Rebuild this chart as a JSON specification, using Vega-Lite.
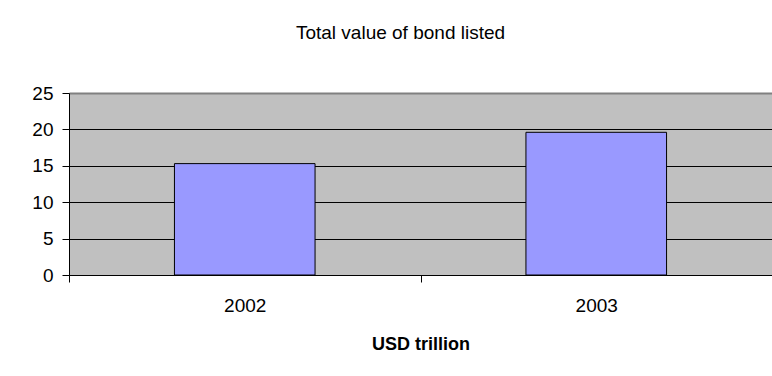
{
  "$schema": "https://vega.github.io/schema/vega-lite/v6.json",
  "autosize": {"type": "none"},
  "padding": {"left": 69, "top": 93, "right": 0, "bottom": 101},
  "width": 703,
  "height": 182,
  "background": "#ffffff",
  "title": {
    "text": "Total value of bond listed",
    "font": "Liberation Sans",
    "fontSize": 19,
    "fontWeight": "normal",
    "color": "#000000",
    "anchor": "middle",
    "baseline": "alphabetic",
    "offset": 26,
    "dx": -20
  },
  "data": {
    "values": [
      {"year": "2002", "value": 15.3},
      {"year": "2003", "value": 19.6}
    ]
  },
  "mark": {"type": "bar", "fill": "#9999FF", "stroke": "#000000", "strokeWidth": 1},
  "encoding": {
    "x": {
      "field": "year",
      "type": "nominal",
      "scale": {"paddingInner": 0.6, "paddingOuter": 0.3},
      "axis": {
        "title": "USD trillion",
        "titleFont": "Liberation Sans",
        "titleFontSize": 18,
        "titleFontWeight": "bold",
        "titleColor": "#000000",
        "titlePadding": 20,
        "labelAngle": 0,
        "labelFont": "Liberation Sans",
        "labelFontSize": 19,
        "labelColor": "#000000",
        "labelPadding": 14,
        "labelOffset": 175.75,
        "ticks": true,
        "tickOffset": -175.75,
        "tickSize": 7,
        "tickWidth": 1,
        "tickOpacity": 1,
        "tickColor": "#000000",
        "domainColor": "#000000",
        "grid": false
      }
    },
    "y": {
      "field": "value",
      "type": "quantitative",
      "scale": {"domain": [0, 25], "nice": false},
      "axis": {
        "title": null,
        "values": [0, 5, 10, 15, 20, 25],
        "labelFont": "Liberation Sans",
        "labelFontSize": 19,
        "labelColor": "#000000",
        "labelPadding": 9,
        "tickSize": 7,
        "tickColor": "#000000",
        "domainColor": "#000000",
        "grid": true,
        "gridColor": {"condition": {"test": "datum.value === 25", "value": "#808080"}, "value": "#000000"},
        "gridWidth": {"condition": {"test": "datum.value === 25", "value": 2}, "value": 1},
        "gridOpacity": 1
      }
    }
  },
  "config": {
    "view": {"fill": "#C0C0C0", "stroke": null}
  }
}
